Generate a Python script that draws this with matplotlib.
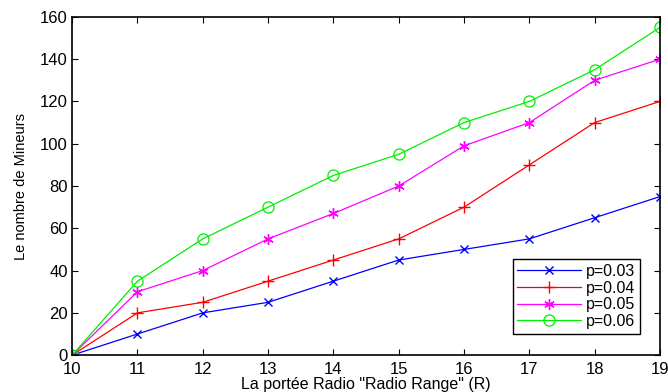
import matplotlib
matplotlib.use("Agg")
from matplotlib import pyplot as plt

plt.rcParams['font.family'] = ['Liberation Sans', 'DejaVu Sans']

ranges = [10, 11, 12, 13, 14, 15, 16, 17, 18, 19]
p003 = [0, 10, 20, 25, 35, 45, 50, 55, 65, 75]
p004 = [0, 20, 25, 35, 45, 55, 70, 90, 110, 120]
p005 = [0, 30, 40, 55, 67, 80, 99, 110, 130, 140]
p006 = [0, 35, 55, 70, 85, 95, 110, 120, 135, 155]
labels = ['p=0.03', 'p=0.04', 'p=0.05', 'p=0.06']

fig = plt.figure(figsize=(6.68, 3.92), dpi=100)
ax = fig.add_axes([0.108, 0.094, 0.880, 0.863])

ax.plot(ranges, p003, color='#0000ff', marker='x', ms=6, mew=1, lw=0.9, label=labels[0])
ax.plot(ranges, p004, color='#ff0000', marker='+', ms=9, mew=1, lw=0.9, label=labels[1])
ax.plot(ranges, p005, color='#ff00ff', marker=(6, 2, 0), ms=7.5, mew=1, lw=0.9, label=labels[2])
ax.plot(ranges, p006, color='#00ee00', marker='o', ms=8, mfc='none', mew=0.9, lw=0.9, label=labels[3])

ax.set_xlim(10, 19)
ax.set_ylim(0, 160)
ax.set_xticks(ranges)
ax.set_yticks(range(0, 161, 20))
ax.tick_params(direction='in', length=4, width=0.8, labelsize=12, top=True, right=True)
ax.tick_params(axis='x', pad=5)
ax.tick_params(axis='y', pad=3)
for s in ax.spines.values():
    s.set_linewidth(1.2)

ax.set_xlabel('La portée Radio "Radio Range" (R)', fontsize=11.5, labelpad=0)
ax.set_ylabel('Le nombre de Mineurs', fontsize=10.5, labelpad=9,
              family=['Liberation Sans Narrow', 'Liberation Sans'])

leg = ax.legend(loc='lower right', bbox_to_anchor=(0.98, 0.04), fontsize=11.5,
                fancybox=False, framealpha=1, edgecolor='black',
                handlelength=4.0, borderpad=0.3, labelspacing=0.1, handletextpad=0.3)
leg.get_frame().set_linewidth(1.0)

fig.savefig('out.png', dpi=100)
